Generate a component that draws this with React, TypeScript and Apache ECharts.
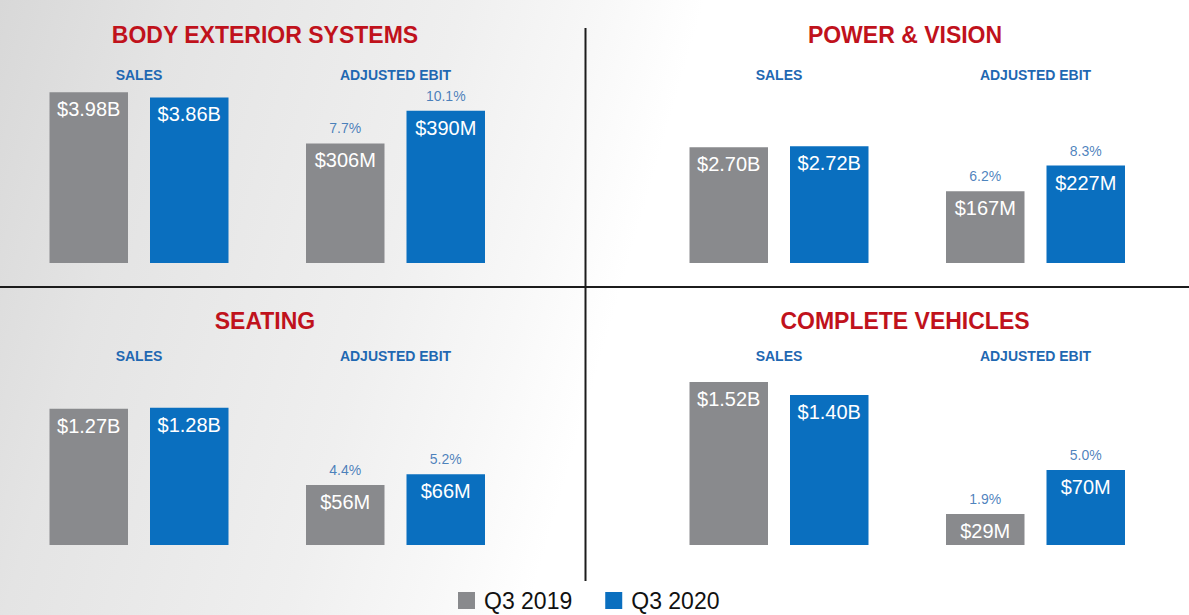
import React, { useEffect, useRef } from "react";
import * as echarts from "echarts";

// ---- data ----
const segments = ["BODY EXTERIOR SYSTEMS", "POWER & VISION", "SEATING", "COMPLETE VEHICLES"];
const periods = ["Q3 2019", "Q3 2020"];
const metrics = ["SALES", "ADJUSTED EBIT"];
const sales2019 = [3.98, 2.7, 1.27, 1.52]; // $B
const sales2020 = [3.86, 2.72, 1.28, 1.4]; // $B
const ebit2019 = [306, 167, 56, 29]; // $M
const ebit2020 = [390, 227, 66, 70]; // $M
const margin2019 = [7.7, 6.2, 4.4, 1.9]; // %
const margin2020 = [10.1, 8.3, 5.2, 5.0]; // %

// ---- layout / scale (per panel) ----
const FONT = "'Liberation Sans', Arial, Helvetica, sans-serif";
const GREY = "#898a8d";
const BLUE = "#0a6fbf";
const RED = "#c0121c";
const SUB = "#1f68b2";
const panelX = [0, 640, 0, 640];
const rowTop = [80, 362];
const gridH = 183;
const salesMax = [4.266, 4.266, 1.707, 1.707];
const ebitMax = [468.6, 426.6, 170.9, 170.9];

export default function App() {
  const ref = useRef<HTMLDivElement>(null);
  useEffect(() => {
    if (!ref.current) return;
    const chart = echarts.init(ref.current, undefined, { renderer: "svg" });
    const grids: any[] = [];
    const xAxes: any[] = [];
    const yAxes: any[] = [];
    const series: any[] = [];
    const graphics: any[] = [];

    graphics.push({
      type: "rect",
      z: -10,
      silent: true,
      shape: { x: 0, y: 0, width: 1189, height: 615 },
      style: {
        fill: new echarts.graphic.LinearGradient(0, 0, 1, 0.15, [
          { offset: 0, color: "#d8d8d8" },
          { offset: 0.15, color: "#e4e4e4" },
          { offset: 0.38, color: "#efefef" },
          { offset: 0.5, color: "#f8f8f8" },
          { offset: 0.58, color: "#ffffff" },
          { offset: 1, color: "#ffffff" },
        ]),
      },
    });

    segments.forEach((seg, p) => {
      const row = p < 2 ? 0 : 1;
      const top = rowTop[row];
      const ox = panelX[p];
      const titleY = row === 0 ? 35 : 321;
      const subY = row === 0 ? 75 : 356;
      graphics.push({
        type: "text",
        x: ox + 265,
        y: titleY,
        z: 10,
        style: {
          text: seg,
          font: `bold 23px ${FONT}`,
          fill: RED,
          align: "center",
          verticalAlign: "middle",
          textAlign: "center",
          textVerticalAlign: "middle",
        },
      });
      const lefts = [ox + 38.5, ox + 295];
      metrics.forEach((m, k) => {
        graphics.push({
          type: "text",
          x: lefts[k] + 100.5,
          y: subY,
          z: 10,
          style: {
            text: m,
            font: `bold 14px ${FONT}`,
            fill: SUB,
            align: "center",
            verticalAlign: "middle",
            textAlign: "center",
            textVerticalAlign: "middle",
          },
        });
        const gi = grids.length;
        grids.push({ left: lefts[k], top, width: 201, height: gridH, containLabel: false });
        xAxes.push({
          type: "category",
          gridIndex: gi,
          data: periods,
          show: false,
        });
        yAxes.push({
          type: "value",
          gridIndex: gi,
          min: 0,
          max: k === 0 ? salesMax[p] : ebitMax[p],
          show: false,
          splitLine: { show: false },
        });
        const v19 = k === 0 ? sales2019[p] : ebit2019[p];
        const v20 = k === 0 ? sales2020[p] : ebit2020[p];
        const fmt = (v: number) => (k === 0 ? `$${v.toFixed(2)}B` : `$${v}M`);
        const label = {
          show: true,
          position: "insideTop",
          distance: 7,
          color: "#ffffff",
          fontSize: 20,
          fontFamily: FONT,
          formatter: (pr: any) => fmt(pr.value),
        };
        series.push({
          type: "bar",
          name: periods[0],
          xAxisIndex: gi,
          yAxisIndex: gi,
          data: [v19, "-"],
          barWidth: 78.5,
          barGap: "-100%",
          itemStyle: { color: GREY },
          label,
        });
        series.push({
          type: "bar",
          name: periods[1],
          xAxisIndex: gi,
          yAxisIndex: gi,
          data: ["-", v20],
          barWidth: 78.5,
          barGap: "-100%",
          itemStyle: { color: BLUE },
          label,
        });
        if (k === 1) {
          const mg = [margin2019[p], margin2020[p]];
          series.push({
            type: "scatter",
            name: "margin",
            xAxisIndex: gi,
            yAxisIndex: gi,
            symbolSize: 0,
            data: [
              { value: v19, m: mg[0] },
              { value: v20, m: mg[1] },
            ],
            label: {
              show: true,
              position: "top",
              distance: 8,
              color: "#1d63ad",
              fontSize: 14,
              fontFamily: FONT,
              formatter: (pr: any) => `${pr.data.m.toFixed(1)}%`,
            },
          });
        }
      });
    });

    graphics.push({
      type: "line",
      z: 10,
      shape: { x1: 585.5, y1: 28, x2: 585.5, y2: 581 },
      style: { stroke: "#1c1c1c", lineWidth: 2 },
    });
    graphics.push({
      type: "line",
      z: 10,
      shape: { x1: 0, y1: 287, x2: 1189, y2: 287 },
      style: { stroke: "#1c1c1c", lineWidth: 2 },
    });

    chart.setOption({
      animation: false,
      backgroundColor: "#ffffff",
      grid: grids,
      xAxis: xAxes,
      yAxis: yAxes,
      series,
      graphic: graphics,
      legend: {
        data: periods,
        left: 453,
        top: 584,
        itemWidth: 17,
        itemHeight: 17,
        itemGap: 33,
        icon: "rect",
        textStyle: { fontSize: 23, color: "#111111", fontFamily: FONT, padding: [0, 0, 0, 4] },
      },
    });
    return () => chart.dispose();
  }, []);
  return (
    <div
      ref={ref}
      style={{ position: "fixed", left: 0, top: 0, width: 1189, height: 615 }}
    />
  );
}
